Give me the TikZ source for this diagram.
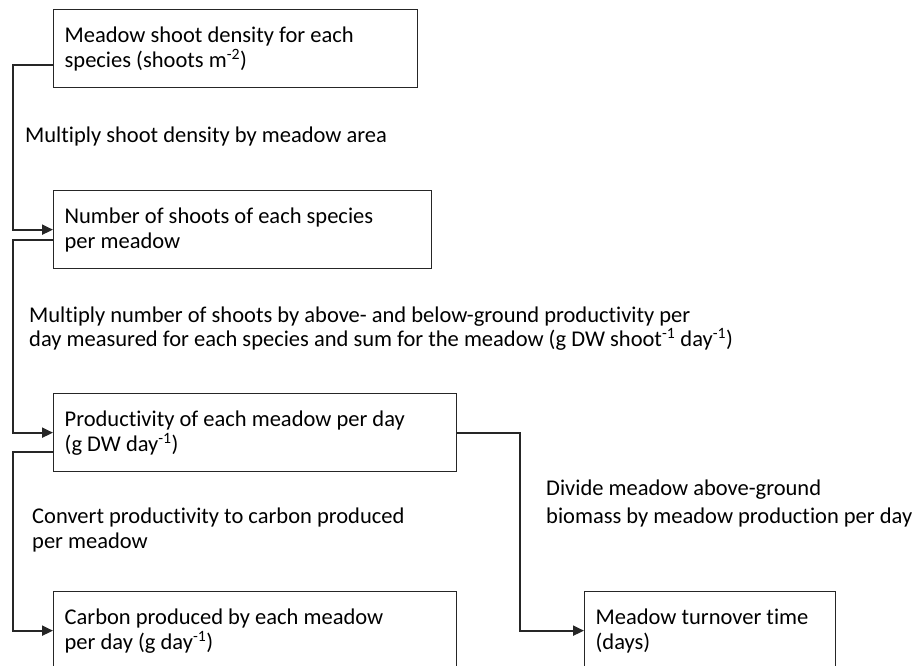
\documentclass[tikz,border=0pt]{standalone}
\usepackage{fontspec}
\setmainfont{Carlito}[Ligatures=NoCommon]
\usetikzlibrary{arrows.meta,positioning}

\tikzset{
  stage/.style={rectangle, draw=black!85, line width=1.3pt, align=flush left, minimum height=78pt, inner xsep=11pt, anchor=north west, font=\fontsize{22.5}{25}\selectfont},
  note/.style={align=flush left, anchor=base west, inner sep=0pt, font=\fontsize{22.5}{25}\selectfont},
  flow/.style={line width=2pt, draw=black!85, -{Triangle[length=11pt,width=10pt]}}
}

\begin{document}
\begin{tikzpicture}[x=1pt, y=-1pt]
\useasboundingbox (0,0) rectangle (914,666);
\clip (0,0) rectangle (914,666);

\node[stage, text width=342pt] (density) at (53,9) {Meadow shoot density for each\\species (shoots m\textsuperscript{-2})};
\node[stage, text width=356pt] (shoots) at (53,190) {Number of shoots of each species\\per meadow};
\node[stage, text width=381pt] (prod) at (53,393) {Productivity of each meadow per day\\(g DW day\textsuperscript{-1})};
\node[stage, text width=381pt] (carbon) at (53,591) {Carbon produced by each meadow\\per day (g day\textsuperscript{-1})};
\node[stage, text width=229pt] (turnover) at (584,591) {Meadow turnover time\\(days)};

\node[note] (areanote) at (25,143) {Multiply shoot density by meadow area};
\node[note] (prodnote) at (29,346) {Multiply number of shoots by above- and below-ground productivity per\\[-1pt]day measured for each species and sum for the meadow (g DW shoot\textsuperscript{-1} day\textsuperscript{-1})};
\node[note] (carbonnote) at (32,548) {Convert productivity to carbon produced\\per meadow};
\node[note] (turnnote) at (546,523) {Divide meadow above-ground\\[3pt]biomass by meadow production per day};

\draw[flow] ([yshift=-16pt]density.west) -- ++(-40,0) |- (shoots.west);
\draw[flow] ([yshift=-10.5pt]shoots.west) -- ++(-40,0) |- (prod.west);
\draw[flow] ([yshift=-19pt]prod.west) -- ++(-40,0) |- (carbon.west);
\draw[flow] (prod.east) -- ++(63,0) |- (turnover.west);
\end{tikzpicture}
\end{document}
